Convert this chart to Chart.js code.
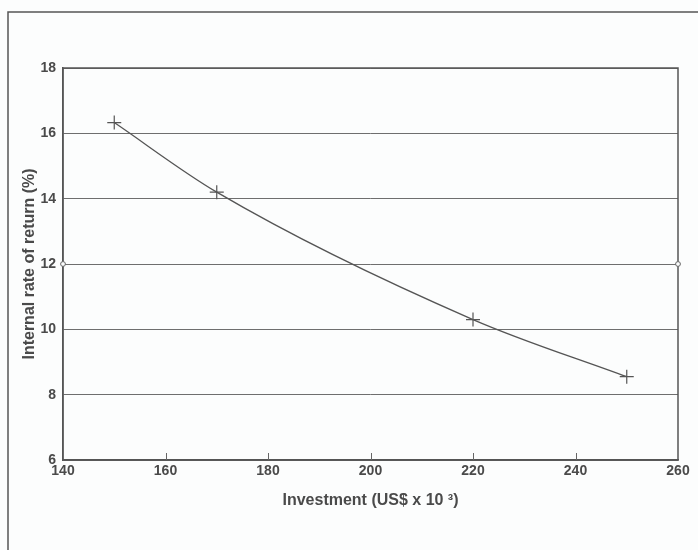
<!DOCTYPE html>
<html>
<head>
<meta charset="utf-8">
<script src="https://cdn.jsdelivr.net/npm/chart.js@4/dist/chart.umd.min.js"></script>
<style>
  html, body { margin: 0; padding: 0; background: #fcfdfd; }
  #wrap { position: relative; width: 698px; height: 550px; }
</style>
</head>
<body>
<div id="wrap"><canvas id="c" width="698" height="550"></canvas></div>
<script>
// Investment levels (US$ x 10^3) and resulting internal rate of return (%)
const investment = [150, 170, 220, 250];
const irr = [16.33, 14.2, 10.3, 8.55];

// Small open markers where the 12 % line meets the frame
const edgeX = [140, 260];
const edgeY = [12, 12];

const xTicks = [140, 160, 180, 200, 220, 240, 260];
const yTicks = [6, 8, 10, 12, 14, 16, 18];

const ink = '#4a4a4a';
const fontFamily = '"Liberation Sans", Arial, sans-serif';

// Outer frame, plot box and inward tick marks on the x axis
const framePlugin = {
  id: 'frame',
  beforeDraw(chart) {
    const ctx = chart.ctx;
    ctx.save();
    ctx.fillStyle = '#fcfdfd';
    ctx.fillRect(0, 0, chart.width, chart.height);
    ctx.strokeStyle = '#555';
    ctx.lineWidth = 1.5;
    ctx.beginPath();
    ctx.moveTo(8, 550);
    ctx.lineTo(8, 12);
    ctx.lineTo(698, 12);
    ctx.stroke();
    ctx.restore();
  },
  beforeDatasetsDraw(chart) {
    const ctx = chart.ctx;
    const a = chart.chartArea;
    ctx.save();
    ctx.strokeStyle = '#555';
    ctx.lineWidth = 1.5;
    ctx.strokeRect(a.left, a.top, a.right - a.left, a.bottom - a.top);
    const xs = chart.scales.x;
    ctx.strokeStyle = '#666';
    ctx.lineWidth = 1;
    xTicks.slice(1, -1).forEach(v => {
      const px = Math.round(xs.getPixelForValue(v)) + 0.5;
      ctx.beginPath();
      ctx.moveTo(px, a.bottom);
      ctx.lineTo(px, a.bottom - 7);
      ctx.stroke();
    });
    ctx.restore();
  }
};

new Chart(document.getElementById('c'), {
  type: 'scatter',
  data: {
    datasets: [
      {
        data: investment.map((x, i) => ({ x, y: irr[i] })),
        showLine: true,
        cubicInterpolationMode: 'monotone',
        borderColor: '#555',
        borderWidth: 1.3,
        pointStyle: 'cross',
        pointRadius: 7,
        pointBorderColor: '#555',
        pointBorderWidth: 1.2,
        pointHoverRadius: 7
      },
      {
        data: edgeX.map((x, i) => ({ x, y: edgeY[i] })),
        showLine: false,
        clip: false,
        pointStyle: 'circle',
        pointRadius: 2.4,
        pointBackgroundColor: '#fcfdfd',
        pointBorderColor: '#666',
        pointBorderWidth: 1
      }
    ]
  },
  options: {
    responsive: false,
    animation: false,
    events: [],
    layout: { padding: { top: 68, right: 20, bottom: 40, left: 20 } },
    plugins: {
      legend: { display: false },
      tooltip: { enabled: false }
    },
    scales: {
      x: {
        type: 'linear',
        min: 140,
        max: 260,
        afterBuildTicks(scale) { scale.ticks = xTicks.map(v => ({ value: v })); },
        afterFit(scale) { scale.height = 50; },
        grid: { drawOnChartArea: false, drawTicks: false },
        border: { display: true, color: '#555', width: 1.5 },
        ticks: {
          padding: 3,
          color: ink,
          font: { family: fontFamily, size: 14, weight: 'bold' },
          maxRotation: 0
        },
        title: {
          display: true,
          text: 'Investment (US$ x 10 ³)',
          color: ink,
          font: { family: fontFamily, size: 16, weight: 'bold' },
          padding: { top: 0, bottom: 0 }
        }
      },
      y: {
        type: 'linear',
        min: 6,
        max: 18,
        afterBuildTicks(scale) { scale.ticks = yTicks.map(v => ({ value: v })); },
        afterFit(scale) { scale.width = 43; },
        grid: { color: '#6e6e6e', lineWidth: 1, drawTicks: false },
        border: { display: true, color: '#555', width: 1.5 },
        ticks: {
          padding: 7,
          color: ink,
          font: { family: fontFamily, size: 14, weight: 'bold' }
        },
        title: {
          display: true,
          text: 'Internal rate of return (%)',
          color: ink,
          font: { family: fontFamily, size: 16, weight: 'bold' },
          padding: { top: 0, bottom: 0 }
        }
      }
    }
  },
  plugins: [framePlugin]
});
</script>
</body>
</html>
